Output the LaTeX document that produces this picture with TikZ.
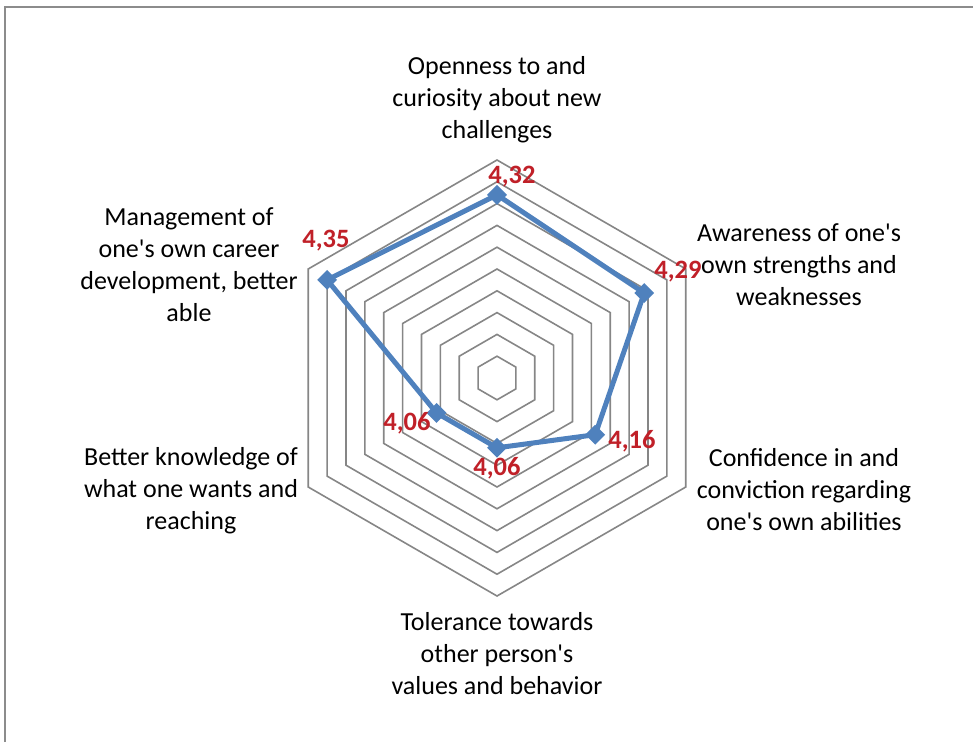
\documentclass[tikz,border=0pt]{standalone}
\usepackage{fontspec}
\setmainfont{Carlito}[Ligatures=TeXOff]
\usetikzlibrary{shapes.geometric}
\definecolor{gridgray}{RGB}{134,134,134}
\definecolor{serblue}{RGB}{79,129,189}
\definecolor{valred}{RGB}{192,32,40}
\definecolor{framegray}{RGB}{140,140,140}
\newcommand{\aps}{'}
\begin{document}
\begin{tikzpicture}[x=1pt,y=1pt,
  axislabel/.style={align=center,font=\fontsize{26}{32}\selectfont,text=black,inner sep=0pt},
  vallabel/.style={font=\fontsize{26.5}{30}\selectfont\bfseries,text=valred,inner sep=0pt},
  marker/.style={diamond,fill=serblue,draw=none,minimum size=20pt,inner sep=0pt},
  gridline/.style={draw=gridgray,line width=1.6pt},
  series/.style={draw=serblue,line width=5pt,line join=round}]
\useasboundingbox (-497,-364) rectangle (476,378);
% frame
\draw[framegray,line width=1.2pt] (-492,-364) -- (-492,371) -- (476,371);
% grid
\foreach \k in {1,...,10}{
  \draw[gridline] (90:{21.8*\k}) -- (30:{21.8*\k}) -- (-30:{21.8*\k}) -- (-90:{21.8*\k}) -- (210:{21.8*\k}) -- (150:{21.8*\k}) -- cycle;
}
% data points
\coordinate (p1) at (90:183.1);
\coordinate (p2) at (30:170.0);
\coordinate (p3) at (-30:113.4);
\coordinate (p4) at (-90:69.8);
\coordinate (p5) at (210:69.8);
\coordinate (p6) at (150:196.2);
\draw[series] (p1) -- (p2) -- (p3) -- (p4) -- (p5) -- (p6) -- cycle;
\foreach \p in {p1,p2,p3,p4,p5,p6}{ \node[marker] (m\p) at (\p) {}; }
% value labels
\node[vallabel] (v1) at (15,201) {4,32};
\node[vallabel] (v2) at (181,106) {4,29};
\node[vallabel] (v3) at (135,-63) {4,16};
\node[vallabel] (v4) at (0,-90) {4,06};
\node[vallabel] (v5) at (-90,-45) {4,06};
\node[vallabel] (v6) at (-171,137) {4,35};
% axis labels
\node[axislabel] (a1) at (0,278) {Openness to and\\curiosity about new\\challenges};
\node[axislabel] (a2) at (302,113) {Awareness of one\aps s\\own strengths and\\weaknesses};
\node[axislabel] (a3) at (307,-112) {Confidence in and\\conviction regarding\\one\aps s own abilities};
\node[axislabel] (a4) at (0,-276) {Tolerance towards\\other person\aps s\\values and behavior};
\node[axislabel] (a5) at (-306,-113) {Better knowledge of\\what one wants and\\reaching};
\node[axislabel] (a6) at (-308,113.5) {Management of\\one\aps s own career\\development, better\\able};
\end{tikzpicture}
\end{document}
